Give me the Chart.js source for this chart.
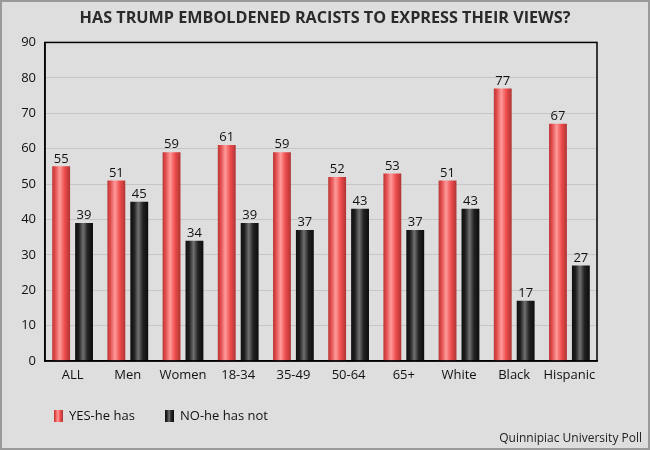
<!DOCTYPE html>
<html>
<head>
<meta charset="utf-8">
<script src="https://cdn.jsdelivr.net/npm/chart.js@4"></script>
<style>
  html, body { margin: 0; padding: 0; }
  #wrap {
    width: 650px; height: 450px; box-sizing: border-box;
    border: 2px solid #9a9a9a; background: #dedede;
  }
  canvas { display: block; }
</style>
</head>
<body>
<div id="wrap"><canvas id="myChart" width="646" height="446"></canvas></div>
<script>
// chart data
var categories = ['ALL', 'Men', 'Women', '18-34', '35-49', '50-64', '65+', 'White', 'Black', 'Hispanic'];
var yesValues = [55, 51, 59, 61, 59, 52, 53, 51, 77, 67];
var noValues = [39, 45, 34, 39, 37, 43, 37, 43, 17, 27];
var seriesNames = ['YES-he has', 'NO-he has not'];
var sourceText = 'Quinnipiac University Poll';

var fontFamily = '"Open Sans", "Noto Sans", sans-serif';

// cylinder look: dark edges, light stripe left of centre
function makeGradient(ctx, x0, x1, isRed) {
    var g = ctx.createLinearGradient(x0, 0, x1, 0);
    if (isRed) {
        g.addColorStop(0, '#b83838');
        g.addColorStop(0.15, '#e04848');
        g.addColorStop(0.42, '#ff9a9a');
        g.addColorStop(0.7, '#ee4c4c');
        g.addColorStop(1, '#b03434');
    } else {
        g.addColorStop(0, '#101010');
        g.addColorStop(0.2, '#1e1e1e');
        g.addColorStop(0.45, '#707070');
        g.addColorStop(0.7, '#222222');
        g.addColorStop(1, '#0c0c0c');
    }
    return g;
}

var barStyler = {
    id: 'barStyler',
    beforeDatasetsDraw: function (chart) {
        var ctx = chart.ctx;
        chart.data.datasets.forEach(function (ds, di) {
            var meta = chart.getDatasetMeta(di);
            meta.data.forEach(function (bar) {
                var half = bar.width / 2;
                bar.options.backgroundColor = makeGradient(ctx, bar.x - half, bar.x + half, di === 0);
            });
        });
    },
    afterDatasetsDraw: function (chart) {
        var ctx = chart.ctx;
        var area = chart.chartArea;
        ctx.save();
        // value labels
        ctx.font = '13px ' + fontFamily;
        ctx.fillStyle = '#111';
        ctx.textAlign = 'center';
        ctx.textBaseline = 'bottom';
        chart.data.datasets.forEach(function (ds, di) {
            var meta = chart.getDatasetMeta(di);
            meta.data.forEach(function (bar, i) {
                ctx.fillText(ds.data[i], bar.x, bar.y - 1);
            });
        });
        // plot frame
        ctx.strokeStyle = '#000';
        ctx.lineWidth = 1.5;
        ctx.strokeRect(area.left, area.top, area.right - area.left, area.bottom - area.top);
        ctx.restore();
    },
    afterDraw: function (chart) {
        var ctx = chart.ctx;
        ctx.save();
        // legend
        var legendY = 414;
        var startX = [52, 163];
        ctx.font = '13px ' + fontFamily;
        ctx.textBaseline = 'middle';
        ctx.textAlign = 'left';
        seriesNames.forEach(function (name, i) {
            var x = startX[i];
            ctx.fillStyle = makeGradient(ctx, x, x + 9, i === 0);
            ctx.fillRect(x, legendY - 6, 9, 12);
            ctx.fillStyle = '#111';
            ctx.fillText(name, x + 15, legendY);
        });
        // source
        ctx.font = '12px ' + fontFamily;
        ctx.textAlign = 'right';
        ctx.fillStyle = '#222';
        ctx.fillText(sourceText, 640, 437);
        ctx.restore();
    }
};

var ctx = document.getElementById('myChart').getContext('2d');
var myChart = new Chart(ctx, {
    type: 'bar',
    data: {
        labels: categories,
        datasets: [{
            label: seriesNames[0],
            data: yesValues,
            // scriptable so every bar gets its own options object
            backgroundColor: function () { return '#e84848'; },
            borderWidth: 0
        }, {
            label: seriesNames[1],
            data: noValues,
            backgroundColor: function () { return '#222'; },
            borderWidth: 0
        }]
    },
    options: {
        responsive: false,
        animation: false,
        categoryPercentage: 0.83,
        barPercentage: 0.78,
        layout: {
            padding: { top: 0, left: 0, right: 0, bottom: 0 }
        },
        plugins: {
            legend: { display: false },
            tooltip: { enabled: false },
            title: {
                display: true,
                text: 'HAS TRUMP EMBOLDENED RACISTS TO EXPRESS THEIR VIEWS?',
                color: '#2a2a2a',
                font: { family: fontFamily, size: 16.2, weight: 'bold' },
                padding: { top: 7, bottom: 14 }
            }
        },
        scales: {
            x: {
                grid: { display: false, drawTicks: false },
                border: { color: '#000', width: 1.5 },
                ticks: {
                    color: '#111',
                    font: { family: fontFamily, size: 13 },
                    padding: 6,
                    maxRotation: 0
                },
                afterFit: function (scale) { scale.height = 87; }
            },
            y: {
                min: 0,
                max: 90,
                grid: { color: '#c6c6c6', drawTicks: false },
                border: { color: '#000', width: 1.5 },
                ticks: {
                    stepSize: 10,
                    color: '#111',
                    font: { family: fontFamily, size: 13 },
                    padding: 9
                },
                afterFit: function (scale) { scale.width = 43; }
            },
            yRight: {
                position: 'right',
                display: true,
                grid: { display: false },
                border: { display: false },
                ticks: { display: false },
                afterFit: function (scale) { scale.width = 51; }
            }
        }
    },
    plugins: [barStyler]
});
</script>
</body>
</html>
